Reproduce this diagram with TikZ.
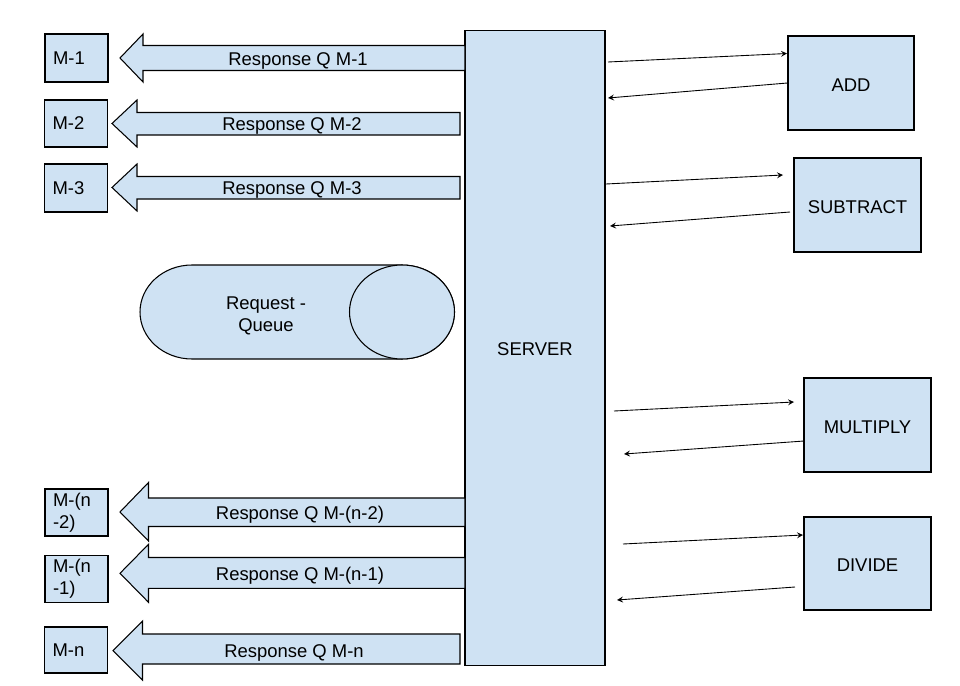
\documentclass[tikz,border=0pt]{standalone}
\usepackage{fontspec}
\setmainfont{Liberation Sans}
\usetikzlibrary{positioning}

\definecolor{qblue}{HTML}{CFE2F3}

\tikzset{
  box/.style={draw, fill=qblue, line width=0.6pt},
  mbox/.style={box, text width=0.94cm, inner xsep=0.16cm, inner ysep=0pt, align=left, minimum height=0.94cm},
  opbox/.style={box, minimum width=2.54cm, minimum height=1.88cm, inner sep=0pt, text height=9.6pt, text depth=0pt},
  respq/.style={box, line join=miter},
  link/.style={->, >=stealth, line width=0.5pt},
}

\begin{document}
\begin{tikzpicture}[x=0.02cm, y=-0.02cm, font=\fontsize{10.5}{12.6}\selectfont]
  \useasboundingbox (0,0) rectangle (960,686);

  % server and operations
  \node[box, minimum width=2.8cm, minimum height=12.72cm, text height=8.8pt, text depth=0pt] (server) at (535,348) {SERVER};
  \node[opbox, minimum width=2.52cm] (add) at (851,83) {ADD};
  \node[opbox] (sub) at (857.5,205) {SUBTRACT};
  \node[opbox] (mul) at (867.5,425) {MULTIPLY};
  \node[opbox, minimum height=1.86cm] (div) at (867.5,563.5) {DIVIDE};

  % clients
  \node[mbox, minimum height=0.96cm] (m1) at (76.5,58) {M-1};
  \node[mbox] (m2) at (76,123.5) {M-2};
  \node[mbox, minimum height=0.96cm] (m3) at (76,188) {M-3};
  \node[mbox] (mn2) at (76.5,512.5) {M-(n\\-2)};
  \node[mbox, minimum height=0.93cm] (mn1) at (76.5,579) {M-(n\\-1)};
  \node[mbox, minimum height=0.92cm] (mn) at (76,650) {M-n};

  % response queues
  \draw[respq] (120,58) -- (143,34) -- (143,45.5) -- (465,45.5) -- (465,70.5) -- (143,70.5) -- (143,82) -- cycle;
  \draw[respq] (112,123.5) -- (137,100) -- (137,112.5) -- (460,112.5) -- (460,135) -- (137,135) -- (137,147) -- cycle;
  \draw[respq] (112,187.5) -- (137,164) -- (137,176.5) -- (460,176.5) -- (460,199) -- (137,199) -- (137,211) -- cycle;
  \draw[respq] (120,512) -- (148.5,482.5) -- (148.5,498) -- (465,498) -- (465,526.5) -- (148.5,526.5) -- (148.5,541) -- cycle;
  \draw[respq] (120,573.3) -- (148.5,544.3) -- (148.5,557.5) -- (465,557.5) -- (465,588.3) -- (148.5,588.3) -- (148.5,602.3) -- cycle;
  \draw[respq] (113,650.5) -- (142.5,621) -- (142.5,634) -- (460,634) -- (460,664) -- (142.5,664) -- (142.5,680) -- cycle;
  \node (rq1) at (298,61) {Response Q M-1};
  \node (rq2) at (292,126) {Response Q M-2};
  \node (rq3) at (292,190) {Response Q M-3};
  \node (rqn2) at (300,514.5) {Response Q M-(n-2)};
  \node (rqn1) at (300,575.5) {Response Q M-(n-1)};
  \node (rqn) at (294,652.5) {Response Q M-n};

  % request queue
  \draw[box] (192,265) -- (402,265) arc (-90:90:52.5 and 47) -- (192,359) arc (90:270:52 and 47) -- cycle;
  \draw[box] (402,312) ellipse (52.5 and 47);
  \node[align=center] (reqq) at (266,316) {Request -\\Queue};

  % links to the operations
  \coordinate (srv-add) at (608,62);
  \coordinate (add-in) at (787,53.5);
  \coordinate (add-back) at (608,98);
  \coordinate (srv-sub) at (606,184);
  \coordinate (sub-in) at (783,175);
  \coordinate (sub-out) at (790,212);
  \coordinate (sub-back) at (610,226);
  \coordinate (srv-mul) at (614,411);
  \coordinate (mul-in) at (794,402);
  \coordinate (mul-out) at (804,441);
  \coordinate (mul-back) at (624,454);
  \coordinate (srv-div) at (623,544);
  \coordinate (div-in) at (803,535);
  \coordinate (div-out) at (795,587);
  \coordinate (div-back) at (617,600);
  \draw[link] (srv-add) -- (add-in);
  \draw[link] (add.west) -- (add-back);
  \draw[link] (srv-sub) -- (sub-in);
  \draw[link] (sub-out) -- (sub-back);
  \draw[link] (srv-mul) -- (mul-in);
  \draw[link] (mul-out) -- (mul-back);
  \draw[link] (srv-div) -- (div-in);
  \draw[link] (div-out) -- (div-back);
\end{tikzpicture}
\end{document}
